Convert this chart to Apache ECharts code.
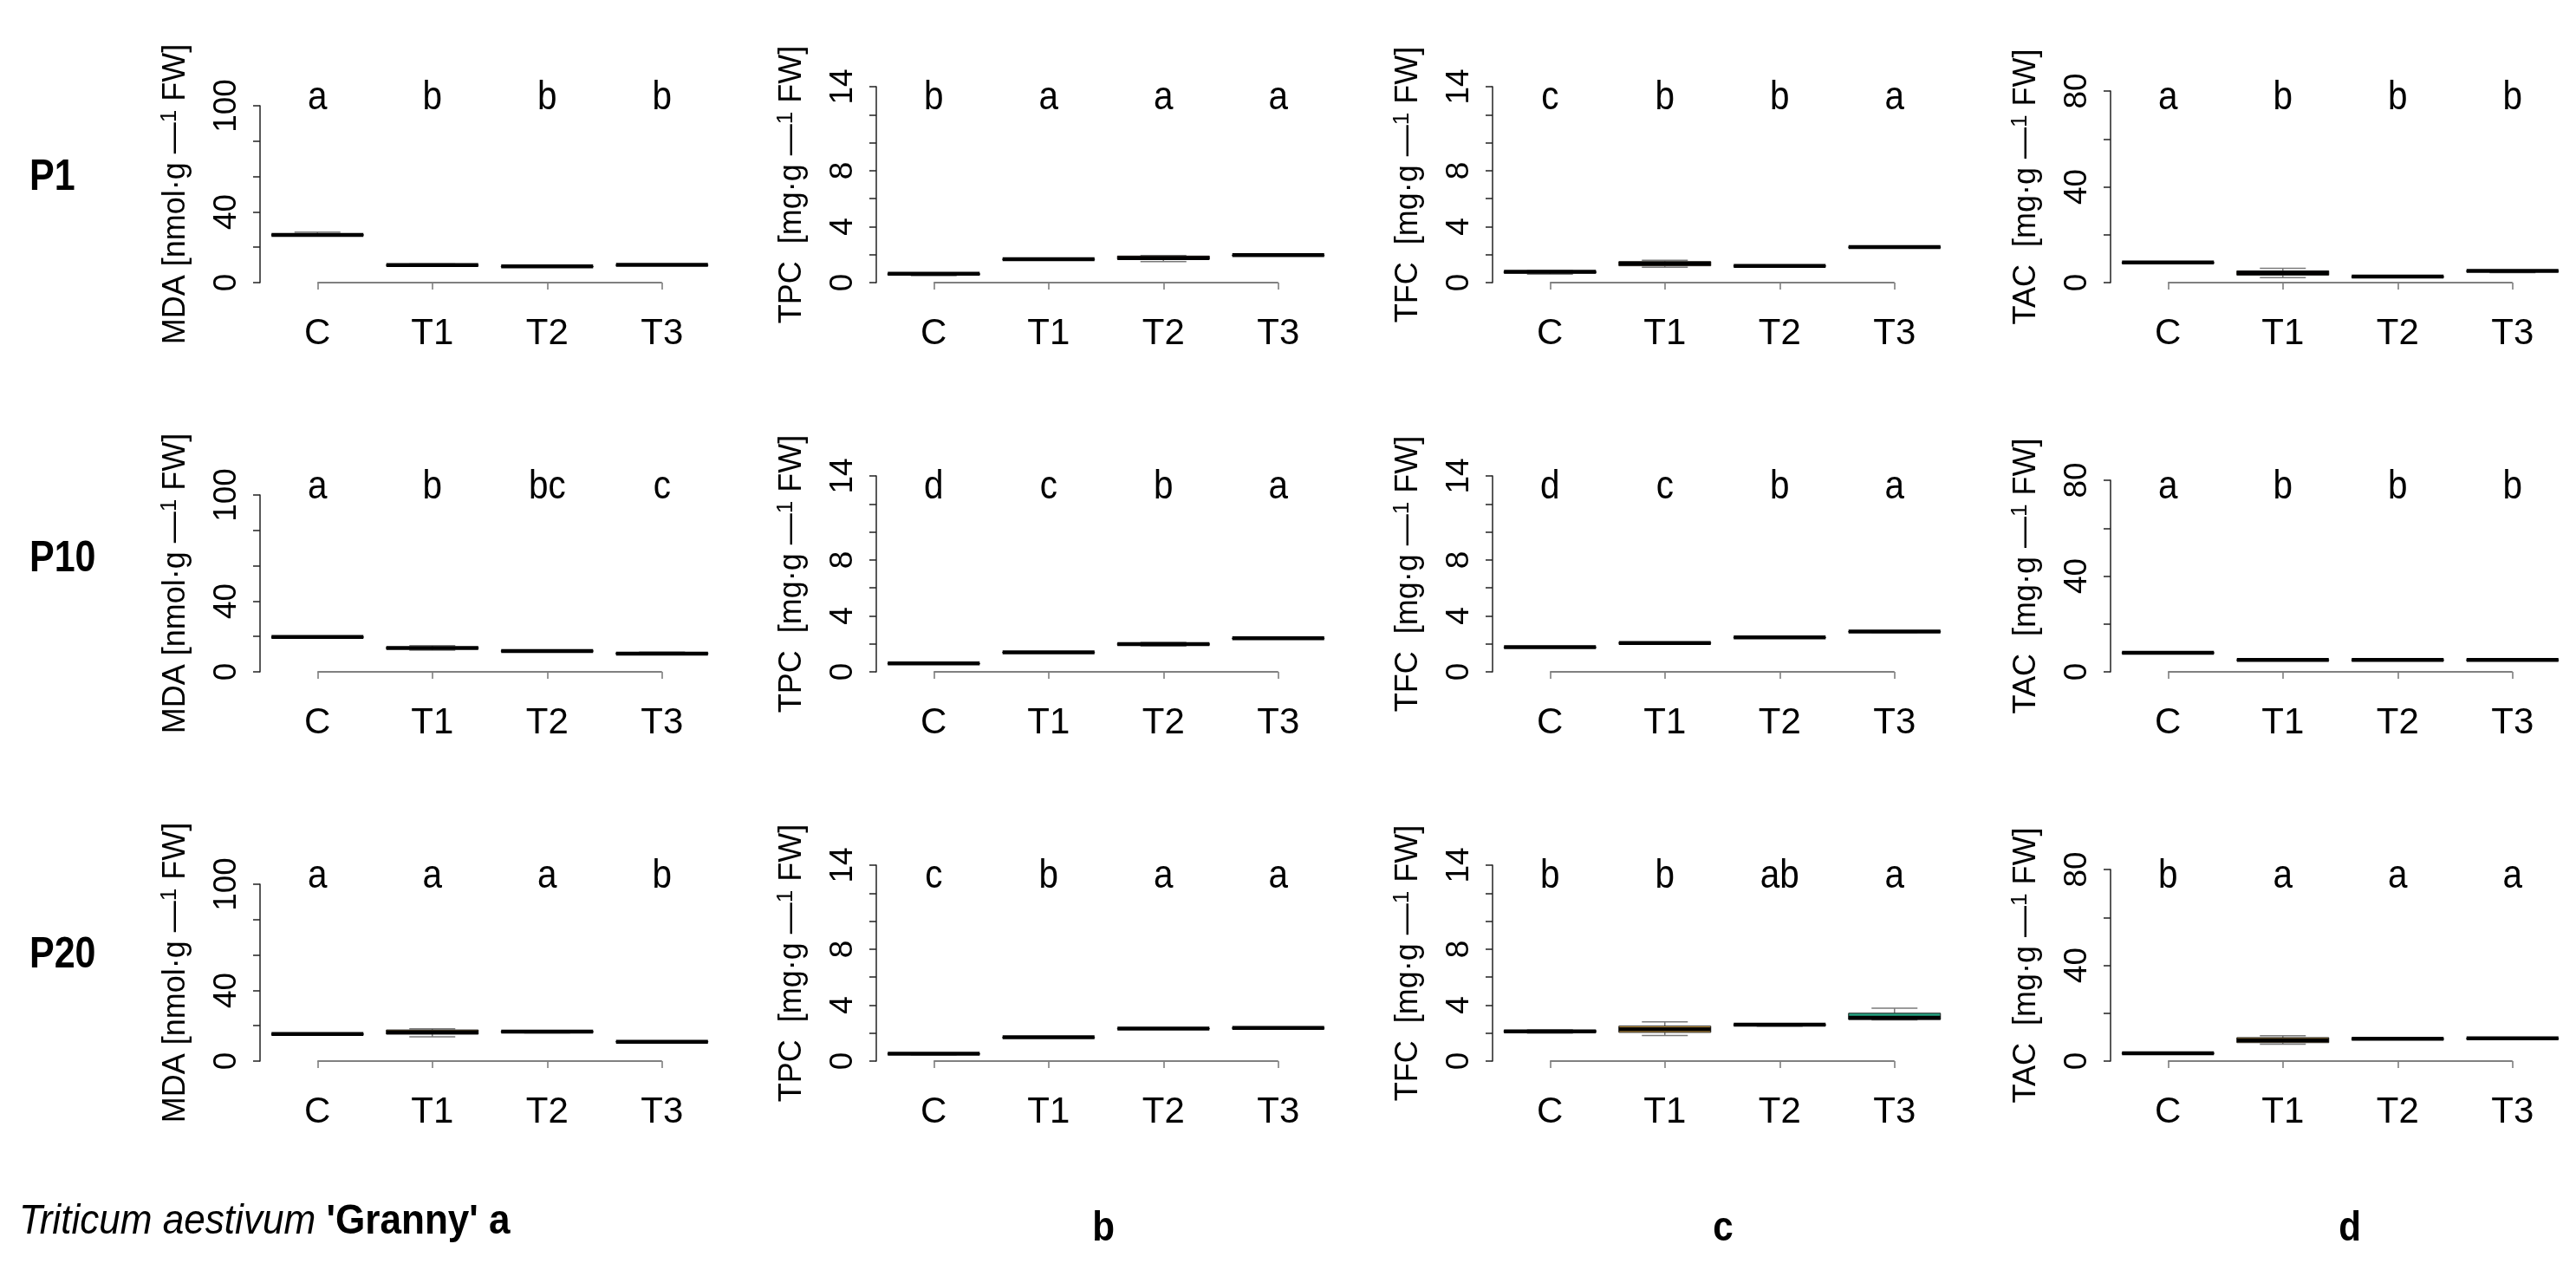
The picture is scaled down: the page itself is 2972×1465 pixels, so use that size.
<!DOCTYPE html>
<html>
<head>
<meta charset="utf-8">
<script src="https://cdn.jsdelivr.net/npm/echarts@6/dist/echarts.min.js"></script>
<style>
  html, body { margin: 0; padding: 0; background: #fff; }
  #chart { width: 2972px; height: 1465px; }
</style>
</head>
<body>
<div id="chart"></div>
<script>
// --- data ---
const categories = ['C', 'T1', 'T2', 'T3'];
const periods = ['P1', 'P10', 'P20'];

// box stats per treatment: [min, Q1, median, Q3, max]
const mdaP1  = [[26.5, 26.8, 27.0, 27.2, 28.5], [9.5, 9.7, 9.9, 10.1, 10.5], [8.9, 9.0, 9.2, 9.3, 9.5], [9.8, 9.9, 10.0, 10.1, 10.3]];
const mdaP10 = [[19.3, 19.5, 19.7, 19.9, 20.1], [12.3, 13.0, 13.5, 14.0, 14.8], [11.3, 11.5, 11.8, 12.0, 12.2], [9.8, 10.0, 10.3, 10.8, 11.2]];
const mdaP20 = [[15.0, 15.1, 15.3, 15.5, 15.6], [13.7, 15.2, 16.3, 17.6, 18.3], [15.9, 16.3, 16.7, 16.9, 17.1], [10.6, 10.8, 10.9, 11.2, 11.4]];

const tpcP1  = [[0.50, 0.55, 0.64, 0.66, 0.68], [1.62, 1.64, 1.67, 1.69, 1.71], [1.50, 1.67, 1.75, 1.90, 1.93], [1.92, 1.94, 1.96, 1.98, 2.00]];
const tpcP10 = [[0.55, 0.58, 0.60, 0.62, 0.64], [1.35, 1.37, 1.40, 1.42, 1.44], [1.85, 1.90, 1.98, 2.05, 2.10], [2.35, 2.37, 2.40, 2.42, 2.44]];
const tpcP20 = [[0.45, 0.48, 0.52, 0.55, 0.57], [1.65, 1.68, 1.70, 1.72, 1.74], [2.28, 2.30, 2.33, 2.35, 2.37], [2.33, 2.35, 2.37, 2.39, 2.41]];

const tfcP1  = [[0.60, 0.68, 0.78, 0.82, 0.85], [1.10, 1.20, 1.36, 1.50, 1.60], [1.17, 1.18, 1.20, 1.22, 1.23], [2.50, 2.52, 2.54, 2.56, 2.58]];
const tfcP10 = [[1.72, 1.74, 1.76, 1.78, 1.80], [2.00, 2.03, 2.06, 2.09, 2.12], [2.42, 2.44, 2.46, 2.48, 2.50], [2.82, 2.85, 2.88, 2.90, 2.92]];
const tfcP20 = [[2.00, 2.05, 2.12, 2.20, 2.23], [1.83, 2.05, 2.27, 2.50, 2.80], [2.50, 2.55, 2.60, 2.62, 2.64], [2.95, 2.97, 3.10, 3.42, 3.78]];

const tacP1  = [[8.2, 8.3, 8.4, 8.5, 8.6], [2.1, 3.1, 4.1, 4.9, 6.0], [2.3, 2.4, 2.5, 2.6, 2.7], [4.2, 4.6, 4.9, 5.0, 5.1]];
const tacP10 = [[7.8, 7.9, 8.0, 8.1, 8.2], [4.8, 4.9, 5.0, 5.1, 5.2], [4.8, 4.9, 5.0, 5.1, 5.2], [4.8, 4.9, 5.0, 5.1, 5.2]];
const tacP20 = [[3.0, 3.1, 3.3, 3.4, 3.5], [7.1, 7.7, 8.7, 9.8, 10.6], [9.1, 9.2, 9.3, 9.4, 9.5], [9.3, 9.4, 9.5, 9.6, 9.7]];

// significance letters (rows P1, P10, P20)
const mdaLetters = [['a', 'b', 'b', 'b'], ['a', 'b', 'bc', 'c'], ['a', 'a', 'a', 'b']];
const tpcLetters = [['b', 'a', 'a', 'a'], ['d', 'c', 'b', 'a'], ['c', 'b', 'a', 'a']];
const tfcLetters = [['c', 'b', 'b', 'a'], ['d', 'c', 'b', 'a'], ['b', 'b', 'ab', 'a']];
const tacLetters = [['a', 'b', 'b', 'b'], ['a', 'b', 'b', 'b'], ['b', 'a', 'a', 'a']];

// y tick labels that R kept (other ticks unlabeled)
const mdaTicks = [0, 40, 100];
const tpcTicks = [0, 4, 8, 14];
const tfcTicks = [0, 4, 8, 14];
const tacTicks = [0, 40, 80];

const panels = [
    { name: 'MDA [nmol·g {d|—}{s|1} FW]', rows: [mdaP1, mdaP10, mdaP20], letters: mdaLetters, ticks: mdaTicks, max: 100, step: 20 },
    { name: 'TPC  [mg·g {d|—}{s|1} FW]', rows: [tpcP1, tpcP10, tpcP20], letters: tpcLetters, ticks: tpcTicks, max: 14, step: 2 },
    { name: 'TFC  [mg·g {d|—}{s|1} FW]', rows: [tfcP1, tfcP10, tfcP20], letters: tfcLetters, ticks: tfcTicks, max: 14, step: 2 },
    { name: 'TAC  [mg·g {d|—}{s|1} FW]', rows: [tacP1, tacP10, tacP20], letters: tacLetters, ticks: tacTicks, max: 80, step: 20 }
];

// --- layout ---
const FONT = '"Liberation Sans", Arial, Helvetica, sans-serif';
const colLeft = [300, 1011, 1722, 2435];
const rowZero = [326, 775, 1224];
const plotHeight = [204, 226, 226, 221];
const plotWidth = 530;
const lettersAbove = 213;
const squeeze = 0.86;   // the figure text looks horizontally condensed
const fillColors = ['#4d4d4d', '#e2ad4a', '#c8642a', '#26a583'];

// R style boxplot drawn through the axis scales
function renderBox(params, api) {
    const idx = api.value(0);
    const lo = api.coord([idx, api.value(1)]);
    const q1 = api.coord([idx, api.value(2)]);
    const md = api.coord([idx, api.value(3)]);
    const q3 = api.coord([idx, api.value(4)]);
    const hi = api.coord([idx, api.value(5)]);
    const band = api.size([1, 0])[0];
    const w = band * 0.8;
    const sw = w * 0.5;
    const x = md[0];
    const whisk = { stroke: '#7a7a7a', lineWidth: 1.5 };
    return {
        type: 'group',
        children: [
            { type: 'line', shape: { x1: x, y1: q3[1], x2: x, y2: hi[1] }, style: whisk },
            { type: 'line', shape: { x1: x, y1: q1[1], x2: x, y2: lo[1] }, style: whisk },
            { type: 'line', shape: { x1: x - sw / 2, y1: hi[1], x2: x + sw / 2, y2: hi[1] }, style: whisk },
            { type: 'line', shape: { x1: x - sw / 2, y1: lo[1], x2: x + sw / 2, y2: lo[1] }, style: whisk },
            { type: 'rect', shape: { x: x - w / 2, y: q3[1], width: w, height: Math.max(q1[1] - q3[1], 1) },
              style: { fill: fillColors[idx], stroke: '#222', lineWidth: 1 } },
            { type: 'line', shape: { x1: x - w / 2, y1: md[1], x2: x + w / 2, y2: md[1] },
              style: { stroke: '#000', lineWidth: 4.5 } }
        ]
    };
}

const grids = [], xAxes = [], yAxes = [], series = [];

periods.forEach((period, r) => {
    panels.forEach((panel, c) => {
        const gi = grids.length;
        const stats = panel.rows[r];
        const letters = panel.letters[r];

        grids.push({ left: colLeft[c], top: rowZero[r] - plotHeight[c], width: plotWidth, height: plotHeight[c] });

        xAxes.push({
            gridIndex: gi, type: 'category', data: categories,
            axisLine: { show: false },
            axisTick: { show: true, alignWithLabel: true, length: 8, lineStyle: { color: '#777', width: 1.5 } },
            axisLabel: { margin: 38, fontSize: 42, lineHeight: 42, fontFamily: FONT, color: '#000' },
            splitLine: { show: false }
        });

        yAxes.push({
            gridIndex: gi, type: 'value', min: 0, max: panel.max, interval: panel.step,
            axisLine: { show: true, lineStyle: { color: '#222', width: 1.5 } },
            axisTick: { show: true, length: 8, lineStyle: { color: '#222', width: 1.5 } },
            splitLine: { show: false },
            axisLabel: {
                rotate: 90, margin: 20, fontSize: 37, fontFamily: FONT, color: '#000',
                formatter: v => panel.ticks.includes(v) ? String(v) : ''
            },
            name: panel.name, nameLocation: 'middle', nameGap: 77,
            nameTextStyle: {
                fontSize: 36, lineHeight: 40, fontFamily: FONT, color: '#000',
                rich: {
                    d: { fontSize: 36, lineHeight: 12, verticalAlign: 'top', fontFamily: FONT, color: '#000' },
                    s: { fontSize: 26, lineHeight: 6, verticalAlign: 'top', fontFamily: FONT, color: '#000' }
                }
            }
        });

        // x axis line runs only from first to last tick, like R
        series.push({
            type: 'line', xAxisIndex: gi, yAxisIndex: gi,
            data: categories.map(() => 0),
            symbol: 'none', silent: true, z: 1,
            lineStyle: { color: '#808080', width: 2 }
        });

        series.push({
            type: 'custom', xAxisIndex: gi, yAxisIndex: gi, z: 3, clip: false,
            data: stats.map((s, i) => [i].concat(s)),
            encode: { x: 0, y: [1, 2, 3, 4, 5] },
            renderItem: renderBox
        });

        series.push({
            type: 'custom', xAxisIndex: gi, yAxisIndex: gi, z: 4, clip: false, silent: true,
            data: letters.map((l, i) => [i, 0]),
            encode: { x: 0, y: 1 },
            renderItem: (params, api) => {
                const p = api.coord([api.value(0), 0]);
                return {
                    type: 'text', x: p[0], y: p[1] - lettersAbove, scaleX: squeeze,
                    style: { text: letters[params.dataIndex], fontSize: 47, fontFamily: FONT, fill: '#000', align: 'center', verticalAlign: 'middle' }
                };
            }
        });
    });
});

// row labels and panel captions
const rowLabelY = [205, 645, 1102];
const graphics = periods.map((p, r) => ({
    type: 'text', x: 34, y: rowLabelY[r], scaleX: squeeze,
    style: { text: p, fontSize: 50, fontWeight: 'bold', fontFamily: FONT, fill: '#000', verticalAlign: 'middle' }
}));
graphics.push({
    type: 'text', x: 22, y: 1409, scaleX: 0.9,
    style: {
        text: "{i|Triticum aestivum }{b|'Granny' a}",
        verticalAlign: 'middle',
        rich: {
            i: { fontSize: 49, fontStyle: 'italic', fontFamily: FONT, fill: '#000' },
            b: { fontSize: 49, fontWeight: 'bold', fontFamily: FONT, fill: '#000' }
        }
    }
});
[['b', 1273], ['c', 1988], ['d', 2711]].forEach(([t, x]) => {
    graphics.push({
        type: 'text', x: x, y: 1417, scaleX: squeeze,
        style: { text: t, fontSize: 49, fontWeight: 'bold', fontFamily: FONT, fill: '#000', align: 'center', verticalAlign: 'middle' }
    });
});

const chart = echarts.init(document.getElementById('chart'));
chart.setOption({
    animation: false,
    backgroundColor: '#fff',
    grid: grids,
    xAxis: xAxes,
    yAxis: yAxes,
    series: series,
    graphic: graphics
});
</script>
</body>
</html>
